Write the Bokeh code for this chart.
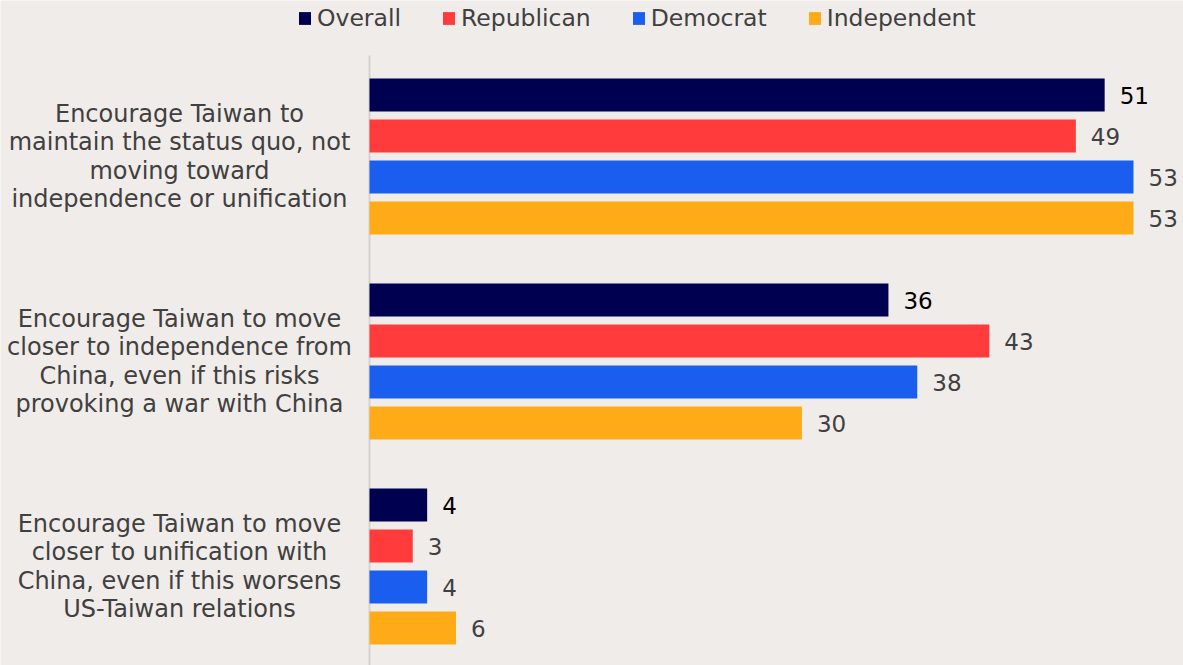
from bokeh.plotting import figure
from bokeh.models import Range1d, Legend, LegendItem, ColumnDataSource
from bokeh.core.properties import value
from bokeh.embed import file_html
from bokeh.resources import INLINE

categories = [
    "Encourage Taiwan to\nmaintain the status quo, not\nmoving toward\nindependence or unification",
    "Encourage Taiwan to move\ncloser to independence from\nChina, even if this risks\nprovoking a war with China",
    "Encourage Taiwan to move\ncloser to unification with\nChina, even if this worsens\nUS-Taiwan relations",
]
series = ["Overall", "Republican", "Democrat", "Independent"]
overall = [51, 36, 4]
republican = [49, 43, 3]
democrat = [53, 38, 4]
independent = [53, 30, 6]

colors = ["#000050", "#ff3b3b", "#1a5ef0", "#ffab17"]
label_colors = ["#000000", "#404040", "#404040", "#404040"]
bg = "#f0ecea"
FONT = "DejaVu Sans"

W, H = 1183, 665
PX = 14.415          # pixels per unit
X0 = 369             # pixel of value 0
GP = 205.0           # pixels per group
G0 = 156.0           # pixel of first group centre

p = figure(width=W, height=H,
           x_range=Range1d(-X0 / PX, (W - X0) / PX),
           y_range=Range1d((H - G0) / GP, -G0 / GP),
           min_border=0, output_backend="svg", toolbar_location=None,
           background_fill_color=bg, border_fill_color=bg,
           outline_line_color=None)
p.axis.visible = False
p.grid.visible = False

# axis line
p.segment(x0=[0], y0=[(55 - G0) / GP], x1=[0], y1=[(H - G0) / GP],
          line_color="#d6d2cf", line_width=2)

data = [overall, republican, democrat, independent]
bar_h = 33 / GP
step = 41 / GP
items = []
for k, (name, vals, col, lcol) in enumerate(zip(series, data, colors, label_colors)):
    ys = [i + (k - 1.5) * step for i in range(len(categories))]
    src = ColumnDataSource(dict(y=ys, v=vals, t=[str(v) for v in vals]))
    r = p.hbar(y="y", left=0, right="v", height=bar_h, source=src,
               fill_color=col, line_color=None)
    p.text(x="v", y="y", text="t", source=src, x_offset=15,
           text_baseline="middle", text_align="left",
           text_font=value(FONT), text_font_size="23px", text_color=lcol)
    items.append(LegendItem(label=name, renderers=[r]))

p.text(x=[(179 - X0) / PX] * 3, y=list(range(len(categories))), text=categories,
       text_align="center", text_baseline="middle", text_line_height=1.02,
       text_font=value(FONT), text_font_size="24px", text_color="#404040")

legend = Legend(items=items, orientation="horizontal", location=(297, H - 32),
                label_text_font=FONT, label_text_font_size="23.5px",
                label_text_color="#404040", glyph_width=15, glyph_height=16,
                label_standoff=5, spacing=40, padding=0, margin=0,
                background_fill_alpha=0, border_line_alpha=0)
p.add_layout(legend)

open("out.html", "w").write(file_html(p, INLINE))
